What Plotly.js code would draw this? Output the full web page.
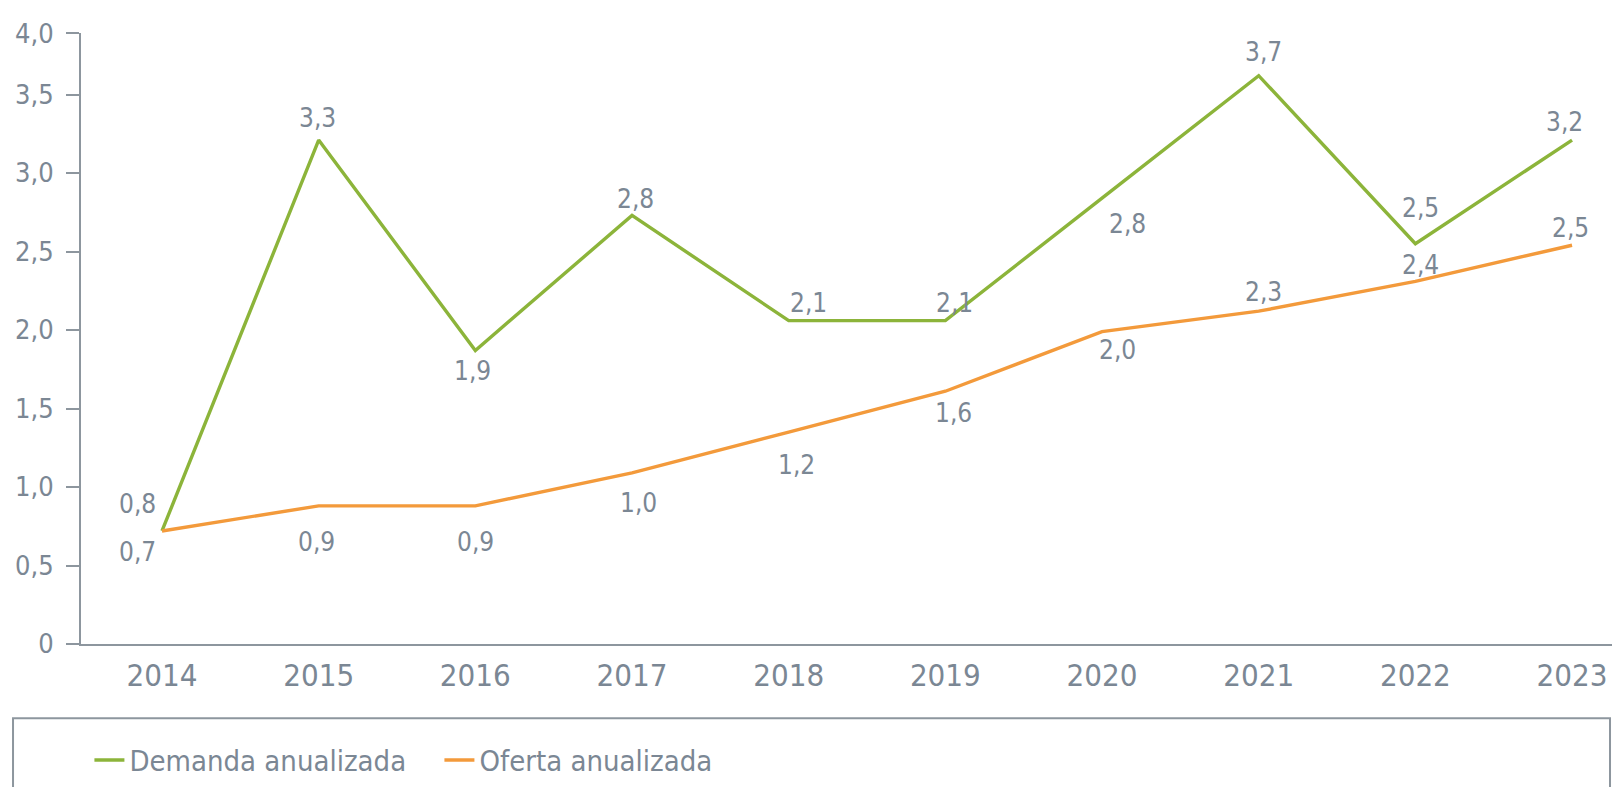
<!DOCTYPE html>
<html>
<head>
<meta charset="utf-8">
<script src="https://cdn.plot.ly/plotly-3.0.1.min.js"></script>
<style>
  html, body { margin: 0; padding: 0; background: #ffffff; }
  #chart { width: 1614px; height: 787px; }
</style>
</head>
<body>
<div id="chart"></div>
<script>
// ---- data ----
const years = [2014, 2015, 2016, 2017, 2018, 2019, 2020, 2021, 2022, 2023];
const demanda = [0.72, 3.21, 1.87, 2.73, 2.06, 2.06, 2.84, 3.62, 2.55, 3.21];
const oferta  = [0.72, 0.88, 0.88, 1.09, 1.35, 1.61, 1.99, 2.12, 2.31, 2.54];
const demandaLabels = ["0,8", "3,3", "1,9", "2,8", "2,1", "2,1", "2,8", "3,7", "2,5", "3,2"];
const ofertaLabels  = ["0,7", "0,9", "0,9", "1,0", "1,2", "1,6", "2,0", "2,3", "2,4", "2,5"];
const yTickVals = [0, 0.5, 1, 1.5, 2, 2.5, 3, 3.5, 3.89];
const yTickText = ["0", "0,5", "1,0", "1,5", "2,0", "2,5", "3,0", "3,5", "4,0"];
const seriesNames = ["Demanda anualizada", "Oferta anualizada"];

// label placement offsets (px) relative to each point
const demandaShiftX = [-25, -1, -3, 3, 20, 9, 25, 5, 5, -8];
const demandaShiftY = [27, 22, -21, 16, 18, 18, -26, 24, 36, 18];
const ofertaShiftX  = [-25, -2, 0, 6, 8, 8, 15, 5, 5, -2];
const ofertaShiftY  = [-21, -36, -36, -30, -33, -22, -18, 19, 16, 17];

// ---- styles ----
const FONT = "'Liberation Sans Narrow', 'DejaVu Sans Condensed', sans-serif";
const TEXT = "#7b8794";
const AXIS = "#8d969e";
const GREEN = "#8cb43a";
const ORANGE = "#f39a3b";

const traces = [
  { x: years, y: demanda, type: "scatter", mode: "lines", name: seriesNames[0],
    line: { color: GREEN, width: 3.4 }, hoverinfo: "skip" },
  { x: years, y: oferta, type: "scatter", mode: "lines", name: seriesNames[1],
    line: { color: ORANGE, width: 3.4 }, hoverinfo: "skip" }
];

const annotations = [];
function addLabels(vals, labels, sx, sy) {
  vals.forEach((v, i) => {
    annotations.push({
      x: years[i], y: v, xref: "x", yref: "y", text: labels[i], showarrow: false,
      xanchor: "center", yanchor: "middle", xshift: sx[i], yshift: sy[i],
      font: { family: FONT, size: 26, color: TEXT }
    });
  });
}
addLabels(demanda, demandaLabels, demandaShiftX, demandaShiftY);
addLabels(oferta, ofertaLabels, ofertaShiftX, ofertaShiftY);

const layout = {
  width: 1614, height: 787,
  margin: { l: 81, r: 2, t: 33, b: 139 },
  paper_bgcolor: "#ffffff", plot_bgcolor: "#ffffff",
  showlegend: true,
  legend: {
    orientation: "h", x: 0.0055, xanchor: "left", y: -0.19, yanchor: "middle",
    font: { family: FONT, size: 29, color: TEXT },
    bgcolor: "rgba(0,0,0,0)", borderwidth: 0,
    entrywidth: 305, entrywidthmode: "pixels", itemgap: 0
  },
  xaxis: {
    range: [2013.483, 2023.255], tickvals: years, ticktext: years.map(String),
    showgrid: false, zeroline: false, showline: true, linecolor: AXIS, linewidth: 2,
    ticks: "", ticklabelstandoff: 3,
    tickfont: { family: FONT, size: 31, color: TEXT }, fixedrange: true
  },
  yaxis: {
    range: [0, 3.892], tickvals: yTickVals, ticktext: yTickText,
    showgrid: false, zeroline: false, showline: true, linecolor: AXIS, linewidth: 2,
    ticks: "outside", ticklen: 13, tickwidth: 2, tickcolor: AXIS, ticklabelstandoff: 7,
    tickfont: { family: FONT, size: 27, color: TEXT }, fixedrange: true
  },
  shapes: [
    { type: "rect", xref: "paper", yref: "paper", x0: -0.0444, x1: 0.9987, y0: -0.1215, y1: -0.26,
      line: { color: AXIS, width: 2 }, fillcolor: "rgba(0,0,0,0)" }
  ],
  annotations: annotations
};

Plotly.newPlot("chart", traces, layout, { displayModeBar: false, staticPlot: true });
</script>
</body>
</html>
